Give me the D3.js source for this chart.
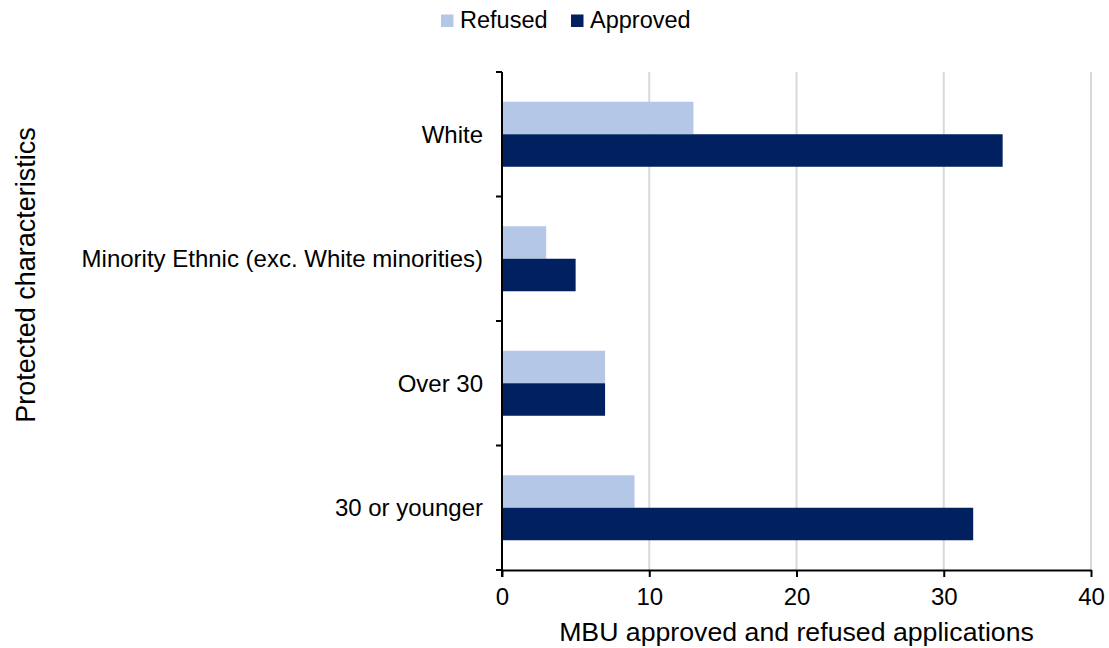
<!DOCTYPE html>
<html><head><meta charset="utf-8">
<script src="https://cdn.jsdelivr.net/npm/d3@7"></script>
<style>body{margin:0;background:#fff}svg{display:block}text{font-family:"Liberation Sans",Arial,sans-serif;fill:#000}</style>
</head><body><svg id="c" width="1109" height="648"></svg>
<script>
const categories = ["White","Minority Ethnic (exc. White minorities)","Over 30","30 or younger"];
const refused = [13,3,7,9];
const approved = [34,5,7,32];
const seriesNames = ["Refused","Approved"];
const colors = ["#b4c7e7","#002060"];
const xTicks = [0,10,20,30,40];

const svg = d3.select("#c");
const L=502, R=1091, T=72, B=570;
const x = d3.scaleLinear().domain([0,40]).range([L,R]);
const y = d3.scaleBand().domain(categories).range([T,B]);
const inner = d3.scaleBand().domain(seriesNames).range([0,y.bandwidth()]).paddingInner(0).paddingOuter(0.915);

// gridlines
svg.append("g").selectAll("line").data(xTicks.slice(1)).join("line")
 .attr("x1",d=>x(d)).attr("x2",d=>x(d)).attr("y1",T).attr("y2",B)
 .attr("stroke","#d9d9d9").attr("stroke-width",2);

// bars
const data = categories.map((c,i)=>({c, vals:[refused[i],approved[i]]}));
const g = svg.append("g");
data.forEach(d=>{
  d.vals.forEach((v,j)=>{
    g.append("rect").attr("x",x(0)).attr("y",y(d.c)+inner(seriesNames[j]))
     .attr("width",x(v)-x(0)).attr("height",inner.bandwidth()).attr("fill",colors[j]);
  });
});

// x axis
const xa = svg.append("g").attr("transform",`translate(0,${B})`)
 .call(d3.axisBottom(x).tickValues(xTicks).tickSize(7).tickSizeOuter(0).tickPadding(11));
xa.attr("font-size",null).attr("font-family",null);
xa.select(".domain").attr("stroke","#000").attr("stroke-width",2);
xa.selectAll(".tick line").attr("stroke","#000").attr("stroke-width",2);
xa.selectAll("text").attr("font-size",24).attr("fill","#000");

// y axis: ticks at band boundaries
svg.append("line").attr("x1",L).attr("x2",L).attr("y1",T).attr("y2",B+7).attr("stroke","#000").attr("stroke-width",2);
const bounds = [T].concat(categories.map(c=>y(c)+y.bandwidth()));
svg.append("g").selectAll("line").data(bounds).join("line")
 .attr("x1",L-6).attr("x2",L).attr("y1",d=>d).attr("y2",d=>d).attr("stroke","#000").attr("stroke-width",2);
svg.append("g").selectAll("text").data(categories).join("text")
 .attr("x",L-19).attr("y",d=>y(d)+y.bandwidth()/2).attr("dy","0.35em")
 .attr("text-anchor","end").attr("font-size",24).text(d=>d);

// axis titles
svg.append("text").attr("x",(L+R)/2).attr("y",641).attr("text-anchor","middle").attr("font-size",26.7)
 .text("MBU approved and refused applications");
svg.append("text").attr("transform",`translate(35,275) rotate(-90)`).attr("text-anchor","middle").attr("font-size",27)
 .text("Protected characteristics");

// legend
const lg = svg.append("g");
const legX=[441,571];
seriesNames.forEach((s,i)=>{
  lg.append("rect").attr("x",legX[i]).attr("y",14.5).attr("width",12.5).attr("height",12.5).attr("fill",colors[i]);
  lg.append("text").attr("x",legX[i]+19).attr("y",27.5).attr("font-size",23.5).text(s);
});
</script></body></html>
